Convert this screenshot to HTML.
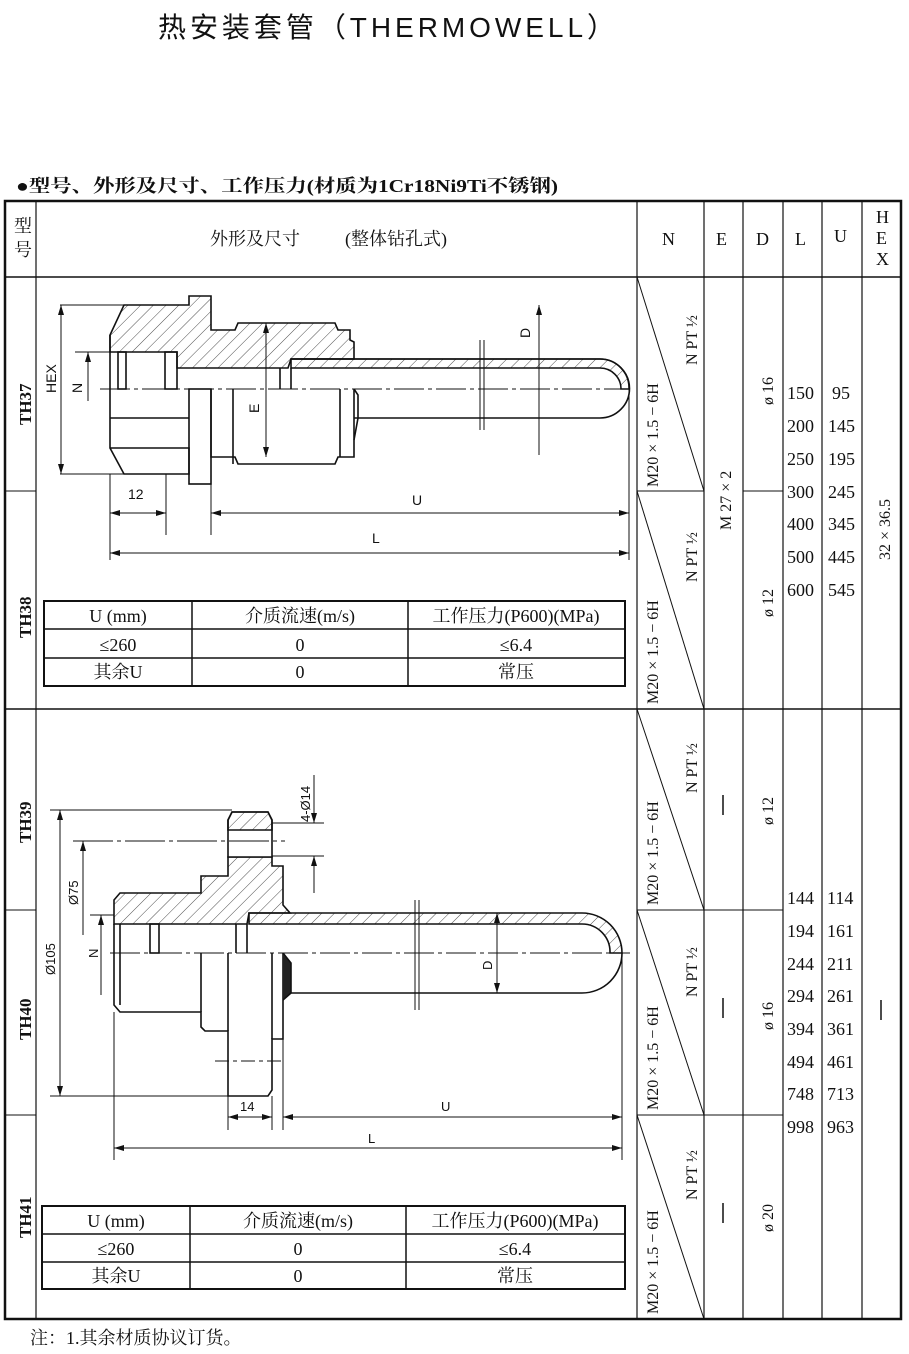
<!DOCTYPE html>
<html><head><meta charset="utf-8"><style>
html,body{margin:0;padding:0;background:#fff;}
svg{display:block;}
.s{font-family:"Liberation Serif","Noto Serif CJK SC",serif;}
.a{font-family:"Liberation Sans","Noto Sans CJK SC",sans-serif;}
</style></head><body>
<svg width="909" height="1354" viewBox="0 0 909 1354" xmlns="http://www.w3.org/2000/svg">
<defs>
<pattern id="h" patternUnits="userSpaceOnUse" width="9" height="9" patternTransform="rotate(45)">
<line x1="0" y1="0" x2="0" y2="9" stroke="#222" stroke-width="0.8"/>
</pattern>
<marker id="ar" viewBox="0 0 10 6" refX="10" refY="3" markerWidth="10" markerHeight="6" orient="auto-start-reverse" markerUnits="userSpaceOnUse">
<path d="M0,0 L10,3 L0,6 Z" fill="#111"/>
</marker>
</defs>
<text x="158" y="37" class="a" font-size="28" fill="#111" textLength="457" lengthAdjust="spacing">热安装套管（THERMOWELL）</text>
<text x="16" y="192" class="s" font-size="18" font-weight="bold" fill="#111" textLength="542" lengthAdjust="spacingAndGlyphs">●型号、外形及尺寸、工作压力(材质为1Cr18Ni9Ti不锈钢)</text>

<g stroke="#111" fill="none">
<rect x="5" y="201" width="896" height="1118" stroke-width="2.5"/>
<line x1="5" y1="277" x2="901" y2="277" stroke-width="1.5"/>
<line x1="36" y1="201" x2="36" y2="1319" stroke-width="1.2"/>
<line x1="637" y1="201" x2="637" y2="1319" stroke-width="1.2"/>
<line x1="704" y1="201" x2="704" y2="1319" stroke-width="1.2"/>
<line x1="743" y1="201" x2="743" y2="1319" stroke-width="1.2"/>
<line x1="783" y1="201" x2="783" y2="1319" stroke-width="1.2"/>
<line x1="822" y1="201" x2="822" y2="1319" stroke-width="1.2"/>
<line x1="862" y1="201" x2="862" y2="1319" stroke-width="1.2"/>
<line x1="5" y1="709" x2="901" y2="709" stroke-width="1.5"/>
<line x1="5" y1="491" x2="36" y2="491"/>
<line x1="5" y1="910" x2="36" y2="910"/>
<line x1="5" y1="1115" x2="36" y2="1115"/>
<line x1="637" y1="491" x2="704" y2="491"/>
<line x1="743" y1="491" x2="783" y2="491"/>
<line x1="637" y1="910" x2="783" y2="910"/>
<line x1="637" y1="1115" x2="783" y2="1115"/>
<line x1="637" y1="277" x2="704" y2="491"/>
<line x1="637" y1="491" x2="704" y2="709"/>
<line x1="637" y1="709" x2="704" y2="910"/>
<line x1="637" y1="910" x2="704" y2="1115"/>
<line x1="637" y1="1115" x2="704" y2="1319"/>
</g>

<g class="s" font-size="18" fill="#111">
<text x="14" y="232">型</text><text x="14" y="256">号</text>
<text x="210" y="245">外形及尺寸</text><text x="345" y="245">(整体钻孔式)</text>
<text x="662" y="245">N</text><text x="716" y="245">E</text><text x="756" y="245">D</text><text x="795" y="245">L</text><text x="834" y="242">U</text>
<text x="876" y="223">H</text><text x="876" y="244">E</text><text x="876" y="265">X</text>
</g>
<g class="s" font-size="17" font-weight="bold" fill="#111">
<text transform="translate(31,425) rotate(-90)">TH37</text>
<text transform="translate(31,638) rotate(-90)">TH38</text>
<text transform="translate(31,843) rotate(-90)">TH39</text>
<text transform="translate(31,1040) rotate(-90)">TH40</text>
<text transform="translate(31,1238) rotate(-90)">TH41</text>
</g>
<g class="s" font-size="16" fill="#111">
<text transform="translate(658,487) rotate(-90)">M20 × 1.5 − 6H</text>
<text transform="translate(697,365) rotate(-90)">N PT ½</text>
<text transform="translate(658,704) rotate(-90)">M20 × 1.5 − 6H</text>
<text transform="translate(697,582) rotate(-90)">N PT ½</text>
<text transform="translate(658,905) rotate(-90)">M20 × 1.5 − 6H</text>
<text transform="translate(697,793) rotate(-90)">N PT ½</text>
<text transform="translate(658,1110) rotate(-90)">M20 × 1.5 − 6H</text>
<text transform="translate(697,997) rotate(-90)">N PT ½</text>
<text transform="translate(658,1314) rotate(-90)">M20 × 1.5 − 6H</text>
<text transform="translate(697,1200) rotate(-90)">N PT ½</text>
<text transform="translate(731,530) rotate(-90)">M 27 × 2</text>
<text transform="translate(773,405) rotate(-90)">ø 16</text>
<text transform="translate(773,617) rotate(-90)">ø 12</text>
<text transform="translate(773,825) rotate(-90)">ø 12</text>
<text transform="translate(773,1030) rotate(-90)">ø 16</text>
<text transform="translate(773,1232) rotate(-90)">ø 20</text>
<text transform="translate(890,560) rotate(-90)">32 × 36.5</text>
</g>
<g stroke="#111" stroke-width="1.5">
<line x1="723" y1="795" x2="723" y2="815"/><line x1="723" y1="998" x2="723" y2="1018"/><line x1="723" y1="1203" x2="723" y2="1223"/><line x1="881" y1="1000" x2="881" y2="1020"/>
</g>
<g class="s" font-size="18" fill="#111">
<text x="787" y="399">150</text><text x="832" y="399">95</text>
<text x="787" y="432">200</text><text x="828" y="432">145</text>
<text x="787" y="465">250</text><text x="828" y="465">195</text>
<text x="787" y="498">300</text><text x="828" y="498">245</text>
<text x="787" y="530">400</text><text x="828" y="530">345</text>
<text x="787" y="563">500</text><text x="828" y="563">445</text>
<text x="787" y="596">600</text><text x="828" y="596">545</text>
<text x="787" y="904">144</text><text x="827" y="904">114</text>
<text x="787" y="937">194</text><text x="827" y="937">161</text>
<text x="787" y="970">244</text><text x="827" y="970">211</text>
<text x="787" y="1002">294</text><text x="827" y="1002">261</text>
<text x="787" y="1035">394</text><text x="827" y="1035">361</text>
<text x="787" y="1068">494</text><text x="827" y="1068">461</text>
<text x="787" y="1100">748</text><text x="827" y="1100">713</text>
<text x="787" y="1133">998</text><text x="827" y="1133">963</text>
</g>

<g stroke="#111" fill="none" stroke-width="1.5">
<rect x="44" y="601" width="581" height="85" stroke-width="2"/>
<line x1="44" y1="629" x2="625" y2="629"/><line x1="44" y1="658" x2="625" y2="658"/>
<line x1="192" y1="601" x2="192" y2="686"/><line x1="408" y1="601" x2="408" y2="686"/>
<rect x="42" y="1206" width="583" height="83" stroke-width="2"/>
<line x1="42" y1="1234" x2="625" y2="1234"/><line x1="42" y1="1262" x2="625" y2="1262"/>
<line x1="190" y1="1206" x2="190" y2="1289"/><line x1="406" y1="1206" x2="406" y2="1289"/>
</g>
<g class="s" font-size="18" fill="#111" text-anchor="middle">
<text x="118" y="622">U (mm)</text><text x="300" y="622">介质流速(m/s)</text><text x="516" y="622">工作压力(P600)(MPa)</text>
<text x="118" y="651">≤260</text><text x="300" y="651">0</text><text x="516" y="651">≤6.4</text>
<text x="118" y="678">其余U</text><text x="300" y="678">0</text><text x="516" y="678">常压</text>
<text x="116" y="1227">U (mm)</text><text x="298" y="1227">介质流速(m/s)</text><text x="515" y="1227">工作压力(P600)(MPa)</text>
<text x="116" y="1255">≤260</text><text x="298" y="1255">0</text><text x="515" y="1255">≤6.4</text>
<text x="116" y="1282">其余U</text><text x="298" y="1282">0</text><text x="515" y="1282">常压</text>
</g>
<text x="30" y="1344" class="s" font-size="18" fill="#111">注：1.其余材质协议订货。</text>

<!-- drawing 1 -->
<g stroke="#111" stroke-width="1.6" fill="none">
<path d="M124,305 L189,305 L189,296 L211,296 L211,330 L235,330 L238,323 L335,323 L338,330 L350,330 L350,340 L354,342 L354,359 L291,359 L288,368 L177,368 L177,352 L110,352 L110,335 Z" fill="url(#h)"/>
<path d="M291,359 L600,359 A29,29 0 0 1 600,418 L354,418" />
<path d="M291,359 L600,359 A29,29 0 0 1 629,389 L621,389 A21,21 0 0 0 600,368 L291,368 Z" fill="url(#h)"/>
<path d="M110,335 L110,448 L124,474 L189,474 L189,448 L110,448 M110,418 L189,418"/>
<rect x="118" y="352" width="8" height="37"/>
<rect x="165" y="352" width="12" height="37"/>
<rect x="189" y="389" width="22" height="95"/>
<path d="M211,389 L211,457 L235,457 L238,464 L335,464 L338,457 L354,457 L354,389"/>
<path d="M233,389 L233,464 M340,389 L340,457"/>
<path d="M280,368 L280,389 M291,368 L291,389"/>
<path d="M354,389 L358,395 L358,418 L354,440"/>
</g>
<g stroke="#111" stroke-width="1" fill="none">
<line x1="100" y1="389" x2="630" y2="389" stroke-dasharray="30,4,4,4"/>
<line x1="60" y1="305" x2="124" y2="305"/><line x1="60" y1="474" x2="124" y2="474"/>
<line x1="61" y1="305" x2="61" y2="474" marker-start="url(#ar)" marker-end="url(#ar)"/>
<line x1="75" y1="352" x2="110" y2="352"/><line x1="88" y1="352" x2="88" y2="401" marker-start="url(#ar)"/>
<line x1="110" y1="474" x2="110" y2="560"/><line x1="166" y1="474" x2="166" y2="535"/>
<line x1="211" y1="484" x2="211" y2="535"/><line x1="629" y1="389" x2="629" y2="560"/>
<line x1="110" y1="513" x2="166" y2="513" marker-start="url(#ar)" marker-end="url(#ar)"/>
<line x1="211" y1="513" x2="629" y2="513" marker-start="url(#ar)" marker-end="url(#ar)"/>
<line x1="110" y1="553" x2="629" y2="553" marker-start="url(#ar)" marker-end="url(#ar)"/>
<line x1="539" y1="305" x2="539" y2="455" marker-start="url(#ar)"/>
<line x1="266" y1="323" x2="266" y2="457" marker-start="url(#ar)" marker-end="url(#ar)"/>
<line x1="480" y1="340" x2="480" y2="430"/><line x1="484" y1="340" x2="484" y2="430"/>
</g>
<g class="a" font-size="14" fill="#111">
<text x="128" y="499">12</text><text x="412" y="505">U</text><text x="372" y="543">L</text>
<text transform="translate(56,393) rotate(-90)">HEX</text>
<text transform="translate(82,393) rotate(-90)">N</text>
<text transform="translate(259,413) rotate(-90)">E</text>
<text transform="translate(530,338) rotate(-90)">D</text>
</g>

<!-- drawing 2 -->
<g stroke="#111" stroke-width="1.6" fill="none">
<path d="M114,900 L120,893 L201,893 L201,876 L228,876 L228,857 L272,857 L272,866 L283,866 L283,905 L290,913 L249,913 L247,924 L114,924 Z" fill="url(#h)"/>
<path d="M228,820 L232,812 L268,812 L272,820 L272,857 L228,857 Z" fill="#fff"/>
<path d="M228,820 L232,812 L268,812 L272,820 L272,830 L228,830 Z" fill="url(#h)"/>
<path d="M249,913 L582,913 A40,40 0 0 1 622,953 L610,953 A28,28 0 0 0 582,924 L249,924 Z" fill="url(#h)"/>
<path d="M291,993 L582,993 A40,40 0 0 0 622,953"/>
<path d="M114,924 L114,1005 L120,1012 L201,1012 L201,1027 L205,1031 L228,1031 L228,1096 L268,1096 L272,1090 L272,1039 L283,1039 L283,953"/>
<path d="M228,953 L228,1031 M272,953 L272,1039 M201,953 L201,1012 M120,924 L120,1005"/>
<path d="M283,953 L291,963 L291,993 L283,1000" fill="#222"/>
<rect x="150" y="924" width="9" height="29"/>
<path d="M236,924 L236,953 M247,924 L247,953"/>
</g>
<g stroke="#111" stroke-width="1" fill="none">
<line x1="110" y1="953" x2="630" y2="953" stroke-dasharray="30,4,4,4"/>
<line x1="50" y1="810" x2="232" y2="810"/><line x1="50" y1="1096" x2="232" y2="1096"/>
<line x1="60" y1="810" x2="60" y2="1096" marker-start="url(#ar)" marker-end="url(#ar)"/>
<line x1="73" y1="841" x2="285" y2="841" stroke-dasharray="40,4,4,4"/><line x1="83" y1="841" x2="83" y2="935" marker-start="url(#ar)"/>
<line x1="90" y1="915" x2="114" y2="915"/><line x1="101" y1="915" x2="101" y2="995" marker-start="url(#ar)"/>
<line x1="272" y1="823" x2="324" y2="823"/><line x1="272" y1="856" x2="324" y2="856"/>
<line x1="314" y1="775" x2="314" y2="823" marker-end="url(#ar)"/><line x1="314" y1="856" x2="314" y2="893" marker-start="url(#ar)"/>
<line x1="114" y1="1012" x2="114" y2="1160"/><line x1="228" y1="1096" x2="228" y2="1130"/>
<line x1="272" y1="1096" x2="272" y2="1130"/><line x1="283" y1="1039" x2="283" y2="1130"/>
<line x1="622" y1="953" x2="622" y2="1160"/>
<line x1="228" y1="1117" x2="272" y2="1117" marker-start="url(#ar)" marker-end="url(#ar)"/>
<line x1="283" y1="1117" x2="622" y2="1117" marker-start="url(#ar)" marker-end="url(#ar)"/>
<line x1="114" y1="1148" x2="622" y2="1148" marker-start="url(#ar)" marker-end="url(#ar)"/>
<line x1="497" y1="913" x2="497" y2="993" marker-start="url(#ar)" marker-end="url(#ar)"/>
<line x1="415" y1="900" x2="415" y2="1010"/><line x1="419" y1="900" x2="419" y2="1010"/>
<line x1="215" y1="1061" x2="282" y2="1061" stroke-dasharray="14,4,4,4"/>
</g>
<g class="a" font-size="13" fill="#111">
<text x="240" y="1111">14</text><text x="441" y="1111">U</text><text x="368" y="1143">L</text>
<text transform="translate(55,975) rotate(-90)">Ø105</text>
<text transform="translate(78,905) rotate(-90)">Ø75</text>
<text transform="translate(98,958) rotate(-90)">N</text>
<text transform="translate(310,822) rotate(-90)">4-Ø14</text>
<text transform="translate(492,970) rotate(-90)">D</text>
</g>
</svg>
</body></html>
